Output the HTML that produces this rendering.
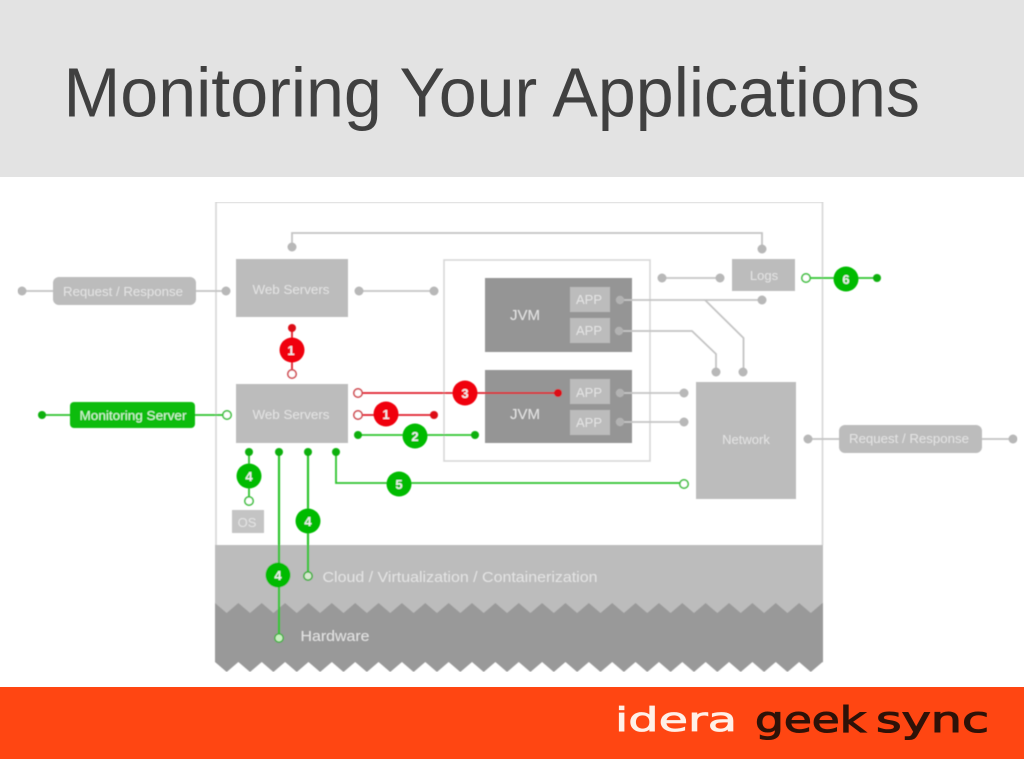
<!DOCTYPE html>
<html><head><meta charset="utf-8"><title>Monitoring Your Applications</title>
<style>html,body{margin:0;padding:0;background:#fff}svg{display:block}text{font-family:"Liberation Sans",sans-serif}</style></head>
<body>
<svg width="1024" height="768" viewBox="0 0 1024 768" xmlns="http://www.w3.org/2000/svg">
<defs>
<pattern id="zt" x="203.320" y="603" width="23.365" height="10" patternUnits="userSpaceOnUse"><polygon points="0,10 11.68,0 23.365,10" fill="#999"/></pattern>
<pattern id="zb" x="215" y="662" width="23.365" height="10" patternUnits="userSpaceOnUse"><polygon points="0,0 23.365,0 11.68,10" fill="#999"/></pattern>
<filter id="b" x="0" y="0" width="100%" height="100%"><feGaussianBlur stdDeviation="0.45"/></filter>
</defs>
<rect width="1024" height="768" fill="#fff"/>
<rect width="1024" height="177" fill="#e3e3e3"/>
<text x="63.500" y="116.500" font-size="69.500" fill="#404040" textLength="856.500" lengthAdjust="spacingAndGlyphs">Monitoring Your Applications</text>

<g filter="url(#b)">
<path d="M216 545V202H822.500V545" fill="none" stroke="#d8d8d8" stroke-width="1.700"/>
<rect x="444" y="260" width="206" height="201" fill="none" stroke="#d8d8d8" stroke-width="1.600"/>
<!-- bands -->
<rect x="215" y="545" width="608" height="68" fill="#bcbcbc"/>
<rect x="215" y="603" width="608" height="10" fill="url(#zt)"/>
<rect x="215" y="613" width="608" height="49" fill="#999"/>
<rect x="215" y="662" width="608" height="10" fill="url(#zb)"/>

<!-- boxes -->
<rect x="53" y="277" width="143" height="28" rx="6" fill="#bcbcbc"/>
<rect x="839" y="425" width="143" height="28" rx="6" fill="#bcbcbc"/>
<rect x="236" y="259" width="112" height="58" fill="#bcbcbc"/>
<rect x="236" y="384" width="112" height="59" fill="#bcbcbc"/>
<rect x="485" y="278" width="147" height="74" fill="#959595"/>
<rect x="485" y="370" width="147" height="73" fill="#959595"/>
<g fill="#bcbcbc">
<rect x="570" y="287" width="40" height="25"/><rect x="570" y="318" width="40" height="25"/>
<rect x="570" y="379" width="40" height="25"/><rect x="570" y="410" width="40" height="25"/>
</g>
<rect x="732" y="259" width="63" height="32" fill="#bcbcbc"/>
<rect x="696" y="382" width="100" height="117" fill="#bcbcbc"/>
<rect x="232" y="510" width="32" height="23" fill="#c4c4c4"/>
<rect x="70" y="402" width="125" height="26" rx="4" fill="#0cbc0c"/>

<!-- gray connectors -->
<g fill="none" stroke="#c4c4c4" stroke-width="1.800">
<path d="M292 247V233H762V249"/>
<path d="M22 291H53M196 291H226"/>
<path d="M359 291H434"/>
<path d="M662 278H720"/>
<path d="M620 300H762"/>
<path d="M705 300L743.500 338V372"/>
<path d="M619 331H692L716 354V372"/>
<path d="M620 393H684"/>
<path d="M620 422H684"/>
<path d="M808 439H839M982 439H1013"/>
</g>
<g fill="#b8b8b8">
<circle cx="22" cy="291" r="4.500"/><circle cx="226" cy="291" r="4.500"/>
<circle cx="292" cy="247" r="4.500"/><circle cx="762" cy="249" r="4.500"/>
<circle cx="359" cy="291" r="4.500"/><circle cx="434" cy="291" r="4.500"/>
<circle cx="662" cy="278" r="4.500"/><circle cx="720" cy="278" r="4.500"/>
<circle cx="762" cy="300" r="4.500"/>
<circle cx="716" cy="372" r="4.500"/><circle cx="743" cy="372" r="4.500"/>
<circle cx="684" cy="393" r="4.500"/><circle cx="684" cy="422" r="4.500"/>
<circle cx="808" cy="439" r="4.500"/><circle cx="1013" cy="439" r="4.500"/>
</g>
<g fill="#b2b2b2"><circle cx="620" cy="300" r="4.200"/><circle cx="619" cy="331" r="4.200"/><circle cx="620" cy="393" r="4.200"/><circle cx="620" cy="422" r="4.200"/></g>

<!-- labels -->
<g fill="#e4e4e4" font-size="13" text-anchor="middle">
<text x="123" y="296" textLength="120" lengthAdjust="spacingAndGlyphs">Request / Response</text>
<text x="909" y="443" textLength="120" lengthAdjust="spacingAndGlyphs">Request / Response</text>
<text x="291" y="294" textLength="77" lengthAdjust="spacingAndGlyphs">Web Servers</text>
<text x="291" y="419" textLength="77" lengthAdjust="spacingAndGlyphs">Web Servers</text>
<text x="525" y="320" font-size="15">JVM</text>
<text x="525" y="419" font-size="15">JVM</text>
<text x="589" y="304" font-size="13">APP</text><text x="589" y="335" font-size="13">APP</text>
<text x="589" y="397" font-size="13">APP</text><text x="589" y="427" font-size="13">APP</text>
<text x="764" y="280" font-size="13">Logs</text>
<text x="746" y="444" font-size="13">Network</text>
<text x="247" y="527" font-size="13">OS</text>
<text x="460" y="582" font-size="15" textLength="275" lengthAdjust="spacingAndGlyphs">Cloud / Virtualization / Containerization</text>
<text x="335" y="641" font-size="14.500" textLength="69" lengthAdjust="spacingAndGlyphs">Hardware</text>
<text x="133" y="420" font-size="13" fill="#d8f8d8" textLength="107" lengthAdjust="spacingAndGlyphs">Monitoring Server</text>
</g>

<!-- green connectors -->
<g fill="none" stroke="#2fc42f" stroke-width="1.800">
<path d="M42 415H70M195 415H227"/>
<path d="M358 435H475"/>
<path d="M249 453V500"/>
<path d="M279 453V638" stroke-width="2.200"/>
<path d="M308 453V576" stroke-width="2.200"/>
<path d="M336 453V483H684"/>
<path d="M806 278H877"/>
</g>
<g fill="#09b009">
<circle cx="42" cy="415" r="4"/><circle cx="358" cy="435" r="4"/><circle cx="475" cy="435" r="4"/>
<circle cx="249" cy="452" r="4"/><circle cx="279" cy="452" r="4"/><circle cx="308" cy="452" r="4"/><circle cx="336" cy="452" r="4"/>
<circle cx="877" cy="278" r="4"/>
</g>
<g fill="#fff" stroke="#3cc03c" stroke-width="1.600">
<circle cx="227" cy="415" r="4.200"/><circle cx="249" cy="501" r="4.200"/>
<circle cx="684" cy="484" r="4.200"/><circle cx="806" cy="278" r="4.200"/>
</g>
<circle cx="308" cy="576" r="4.200" fill="#d8e8d0" stroke="#3cb03c" stroke-width="1.600"/>
<circle cx="279" cy="638" r="4.200" fill="#c8f0c0" stroke="#3cb03c" stroke-width="1.400"/>

<!-- red connectors -->
<g fill="none" stroke="#e0222c" stroke-width="1.800">
<path d="M292 328V374"/>
<path d="M358 393H558"/>
<path d="M358 415H434"/>
</g>
<g fill="#dd0b16"><circle cx="292" cy="328" r="4"/><circle cx="434" cy="415" r="4"/><circle cx="558" cy="393" r="4"/></g>
<g fill="#fff" stroke="#d04850" stroke-width="1.600">
<circle cx="292" cy="374" r="4.200"/><circle cx="358" cy="393" r="4.200"/><circle cx="358" cy="415" r="4.200"/>
</g>

<!-- badges -->
<g fill="#f0000e">
<circle cx="292" cy="350" r="12.500"/><circle cx="465" cy="393" r="12.500"/><circle cx="386" cy="414" r="12.500"/>
</g>
<g fill="#06bb06">
<circle cx="415" cy="436" r="12.500"/><circle cx="249" cy="476" r="12.500"/><circle cx="399" cy="484" r="12.500"/>
<circle cx="308" cy="521" r="12.500"/><circle cx="278" cy="575" r="12.500"/><circle cx="846" cy="279" r="12.500"/>
</g>
<g fill="#f0f0f0" font-size="13" font-weight="bold" text-anchor="middle">
<text x="291" y="355">1</text><text x="465" y="398">3</text><text x="386" y="419">1</text>
<text x="415" y="441">2</text><text x="249" y="481">4</text><text x="399" y="489">5</text>
<text x="308" y="526">4</text><text x="278" y="580">4</text><text x="846" y="284">6</text>
</g>
</g>

<!-- footer -->
<rect y="687" width="1024" height="72" fill="#ff4612"/>
<g style="font-family:'DejaVu Sans',sans-serif">
<text x="615" y="731" font-size="33" fill="#fff0e8" stroke="#fff0e8" stroke-width="0.800" style="font-family:'DejaVu Sans',sans-serif" textLength="122" lengthAdjust="spacingAndGlyphs">idera</text>
<text x="755" y="732" font-size="36" fill="#2e1208" stroke="#2e1208" stroke-width="1.100" style="font-family:'DejaVu Sans',sans-serif" textLength="111" lengthAdjust="spacingAndGlyphs">geek</text>
<text x="876" y="732" font-size="36" fill="#2e1208" stroke="#2e1208" stroke-width="1.100" style="font-family:'DejaVu Sans',sans-serif" textLength="113" lengthAdjust="spacingAndGlyphs">sync</text>
</g>
</svg>
</body></html>
